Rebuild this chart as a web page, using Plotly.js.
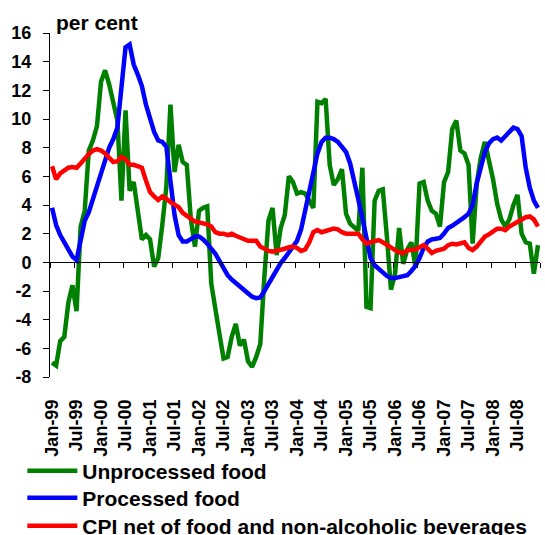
<!DOCTYPE html>
<html>
<head>
<meta charset="utf-8">
<script src="https://cdn.plot.ly/plotly-3.0.1.min.js"></script>
<style>html,body{margin:0;padding:0;background:#fff;}#chart{width:545px;height:535px;}</style>
</head>
<body>
<div id="chart"></div>
<script>
// Month categories Jan-99 .. Dec-08
var monthNames = ["Jan","Feb","Mar","Apr","May","Jun","Jul","Aug","Sep","Oct","Nov","Dec"];
var yearCodes = ["99","00","01","02","03","04","05","06","07","08"];
var months = [];
yearCodes.forEach(function (yy) { monthNames.forEach(function (m) { months.push(m + "-" + yy); }); });

var tickLabels = ["Jan-99","Jul-99","Jan-00","Jul-00","Jan-01","Jul-01","Jan-02","Jul-02","Jan-03","Jul-03",
                  "Jan-04","Jul-04","Jan-05","Jul-05","Jan-06","Jul-06","Jan-07","Jul-07","Jan-08","Jul-08"];
var yTickVals = [-8,-6,-4,-2,0,2,4,6,8,10,12,14,16];
var yTickText = ["-8","-6","-4","-2","0","2","4","6","8","10","12","14","16"];
var seriesNames = ["Unprocessed food", "Processed food", "CPI net of food and non-alcoholic beverages"];

var unprocessedFood = [
 -7.0,-7.2,-5.5,-5.2,-2.8,-1.6,-3.4, 2.5, 3.6, 7.8,
  8.5, 9.5,12.6,13.4,12.4,11.1, 9.9, 4.3,10.6, 5.0,
  5.6, 3.6, 1.6, 1.9, 1.6,-0.3, 0.3, 2.6, 5.3,11.0,
  6.3, 8.2, 7.0, 6.8, 3.0, 1.1, 3.6, 3.8, 3.9,-1.5,
 -3.5,-5.0,-6.7,-6.6,-5.2,-4.3,-5.8,-5.4,-6.9,-7.3,
 -6.6,-5.7,-1.0, 2.9, 3.8, 0.5, 2.4, 3.3, 6.0, 5.6,
  4.8, 4.9, 4.8, 4.3, 3.8,11.2,11.1,11.4, 6.8, 5.4,
  5.8, 6.5, 3.4, 2.7, 2.4, 2.2, 6.6,-3.1,-3.2, 4.3,
  5.0, 5.1, 1.8,-1.9,-0.8, 2.4,-0.1, 0.9, 1.4,-0.3,
  5.5, 5.6, 4.3, 3.6, 3.4, 2.5, 5.6, 6.3, 9.3, 9.9,
  7.8, 7.6, 6.8, 1.3, 5.5, 7.3, 8.4, 7.2, 5.8, 4.1,
  3.0, 2.5, 3.0, 4.0, 4.7, 2.0, 1.4, 1.3,-0.8, 1.2
];
var processedFood = [
  3.8, 2.6, 1.9, 1.4, 0.8, 0.4, 0.15, 1.7, 2.9, 3.5,
  4.4, 5.5, 6.4, 7.3, 8.0, 8.6, 9.4,12.2,15.0,15.2,
 13.8,13.1,12.3,11.0,10.0, 9.1, 8.5, 8.4, 8.05, 5.8,
  3.3, 1.9, 1.45, 1.45, 1.6, 1.8, 1.8, 1.6, 1.3, 1.0,
  0.6, 0.1,-0.4,-0.9,-1.2,-1.45,-1.6,-1.85,-2.2,-2.4,
 -2.5,-2.45,-2.0,-1.5,-1.0,-0.5,-0.05, 0.3, 0.7, 1.05,
  1.5, 2.3, 3.6, 5.0, 6.4, 7.6, 8.4, 8.7, 8.7, 8.6,
  8.4, 8.05, 7.7, 6.9, 5.8, 4.4, 3.1, 1.6, 0.3,-0.2,
 -0.5,-0.7,-0.95,-1.1,-1.1,-1.05,-1.0,-0.9,-0.6,-0.25,
  0.3, 1.0, 1.45, 1.6, 1.65, 1.7, 2.0, 2.4, 2.55, 2.75,
  2.9, 3.15, 3.4, 4.0, 5.5, 6.7, 7.7, 8.3, 8.6, 8.7,
  8.5, 8.8, 9.1, 9.4, 9.3, 8.8, 6.6, 5.2, 4.3, 3.8
];
var cpiNetOfFood = [
  6.7, 5.8, 6.2, 6.45, 6.6, 6.65, 6.6, 6.9, 7.25, 7.55,
  7.8, 7.9, 7.8, 7.6, 7.3, 7.0, 7.05, 7.35, 7.2, 6.8,
  6.8, 6.7, 6.6, 5.7, 4.9, 4.6, 4.35, 4.6, 4.45, 4.2,
  4.0, 3.85, 3.45, 3.2, 3.05, 2.85, 2.8, 2.7, 2.65, 2.5,
  2.1, 2.0, 2.0, 1.9, 2.0, 1.85, 1.75, 1.65, 1.5, 1.5,
  1.5, 1.1, 0.95, 0.8, 0.75, 0.8, 0.86, 0.95, 1.05, 1.1,
  1.0, 0.8, 0.9, 1.4, 2.1, 2.25, 2.1, 2.2, 2.3, 2.35,
  2.3, 2.1, 2.0, 2.0, 2.0, 2.0, 1.6, 1.3, 1.4, 1.5,
  1.55, 1.4, 1.2, 1.0, 0.85, 0.7, 0.65, 0.85, 0.86, 0.9,
  1.05, 1.2, 0.95, 0.65, 0.8, 0.86, 0.95, 1.2, 1.3, 1.25,
  1.35, 1.4, 1.0, 0.86, 1.1, 1.4, 1.8, 1.95, 2.15, 2.35,
  2.35, 2.25, 2.5, 2.65, 2.8, 3.0, 3.15, 3.2, 3.0, 2.5
];

var FONT = "Arial, 'Liberation Sans', sans-serif";
var LW = 4.5;

var traces = [
  {x: months, y: unprocessedFood, type: "scatter", mode: "lines", name: seriesNames[0],
   legend: "legend", line: {color: "#008000", width: LW}},
  {x: months, y: processedFood, type: "scatter", mode: "lines", name: seriesNames[1],
   legend: "legend2", line: {color: "#0000FF", width: LW}},
  {x: months, y: cpiNetOfFood, type: "scatter", mode: "lines", name: seriesNames[2],
   legend: "legend3", line: {color: "#FF0000", width: LW}},
  // invisible helper carrying the zero-line axis with its tick marks
  {x: [-0.5, 119.5], y: [0, 0], xaxis: "x2", yaxis: "y", mode: "lines", showlegend: false,
   hoverinfo: "skip", line: {color: "rgba(0,0,0,0)", width: 0}}
];

function legendAt(yCenterPx) {
  return {
    xref: "container", yref: "container",
    x: 0.041, y: 1 - yCenterPx / 535, xanchor: "left", yanchor: "middle",
    font: {family: FONT, size: 21, color: "#000", weight: "bold"},
    bgcolor: "rgba(0,0,0,0)", borderwidth: 0, itemwidth: 50
  };
}

var layout = {
  width: 545, height: 535,
  margin: {l: 50, r: 5, t: 33, b: 158, pad: 0, autoexpand: false},
  paper_bgcolor: "#fff", plot_bgcolor: "#fff",
  font: {family: FONT, color: "#000", size: 18, weight: "bold"},
  showlegend: true,
  legend: legendAt(471),
  legend2: legendAt(498),
  legend3: legendAt(526),
  xaxis: {
    type: "category", range: [-0.5, 119.5], automargin: false,
    tickmode: "array", tickvals: tickLabels, ticktext: tickLabels,
    tickangle: -90, ticks: "", showline: false, showgrid: false, zeroline: false,
    tickfont: {family: FONT, size: 18, color: "#000", weight: "bold"},
    ticklabelstandoff: 18, fixedrange: true
  },
  xaxis2: {
    overlaying: "x", anchor: "free", position: 8 / 24, side: "bottom", automargin: false,
    range: [-0.5, 119.5], tickmode: "linear", tick0: -0.5, dtick: 6,
    ticks: "outside", ticklen: 5, tickwidth: 1, tickcolor: "#000",
    showline: true, linecolor: "#000", linewidth: 1,
    showticklabels: false, showgrid: false, zeroline: false, fixedrange: true
  },
  yaxis: {
    range: [-8, 16], tickmode: "array", tickvals: yTickVals, ticktext: yTickText, automargin: false,
    ticks: "outside", ticklen: 6, tickwidth: 1, tickcolor: "#000",
    showline: true, linecolor: "#000", linewidth: 1,
    showgrid: false, zeroline: false,
    tickfont: {family: FONT, size: 18, color: "#000", weight: "bold"},
    ticklabelstandoff: 8, fixedrange: true
  },
  annotations: [{
    text: "per cent", xref: "paper", yref: "paper",
    x: 4 / 490, y: 1 + 10 / 344, xanchor: "left", yanchor: "middle",
    showarrow: false, font: {family: FONT, size: 21, color: "#000", weight: "bold"}
  }]
};

Plotly.newPlot("chart", traces, layout, {displayModeBar: false, staticPlot: true});
</script>
</body>
</html>
